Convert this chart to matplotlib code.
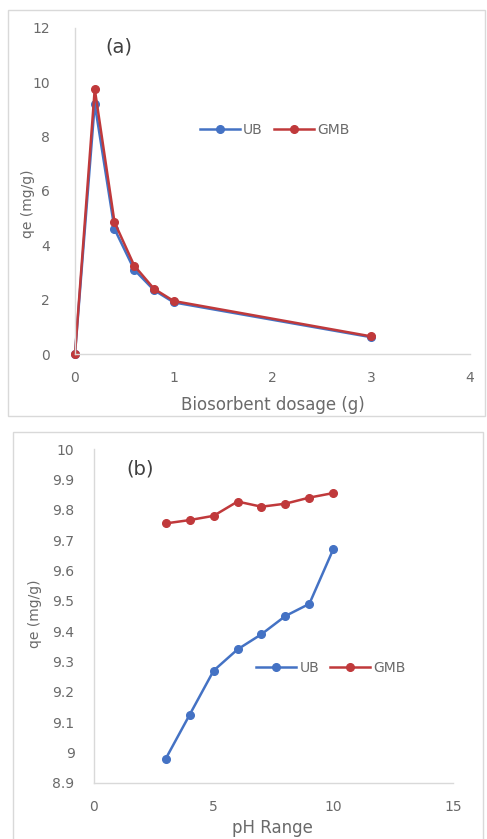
import matplotlib.pyplot as plt
import matplotlib.patches as patches

# (a) dosage data
dose = [0, 0.2, 0.4, 0.6, 0.8, 1.0, 3.0]
ub_dose = [0, 9.2, 4.6, 3.1, 2.35, 1.9, 0.62]
gmb_dose = [0, 9.75, 4.85, 3.25, 2.4, 1.95, 0.65]

# (b) pH data
ph = [3, 4, 5, 6, 7, 8, 9, 10]
ub_ph = [8.98, 9.125, 9.27, 9.34, 9.39, 9.45, 9.49, 9.67]
gmb_ph = [9.755, 9.766, 9.78, 9.827, 9.81, 9.82, 9.84, 9.855]

blue = '#4472C4'
red = '#C0393B'
grey = '#6a6a6a'
fs = 10
plt.rcParams['font.family'] = ['DejaVu Sans']

fig = plt.figure(figsize=(4.87, 8.39), dpi=100)

# chart area frames
for (x0, y0, w, h) in [(0.0164, 0.504, 0.979, 0.484), (0.027, -0.02, 0.965, 0.505)]:
    fig.patches.append(patches.Rectangle((x0, y0), w, h, transform=fig.transFigure,
                                         facecolor='none', edgecolor='#D9D9D9', linewidth=1))

def style(ax, ypad, xpad):
    for s in ['top', 'right']:
        ax.spines[s].set_visible(False)
    for s in ['left', 'bottom']:
        ax.spines[s].set_color('#D9D9D9')
        ax.spines[s].set_linewidth(1)
    ax.tick_params(length=0, colors=grey, labelsize=fs)
    ax.tick_params(axis='y', pad=ypad)
    ax.tick_params(axis='x', pad=xpad)
    ax.set_facecolor('none')

leg_kw = dict(loc='center', ncol=2, frameon=False, fontsize=fs, labelcolor=grey,
              handlelength=2.9, columnspacing=0.8, handletextpad=0.2)

ax1 = fig.add_axes([0.154, 0.578, 0.811, 0.389])
ax1.plot(dose, ub_dose, '-o', color=blue, lw=1.8, ms=5.5, label='UB')
ax1.plot(dose, gmb_dose, '-o', color=red, lw=1.8, ms=5.5, label='GMB')
ax1.set_xlim(0, 4)
ax1.set_ylim(0, 12)
ax1.set_xticks([0, 1, 2, 3, 4])
ax1.set_yticks([0, 2, 4, 6, 8, 10, 12])
ax1.set_xlabel('Biosorbent dosage (g)', color=grey, fontsize=12, va='center')
ax1.xaxis.set_label_coords(0.5, -0.156)
ax1.set_ylabel('qe (mg/g)', color=grey, fontsize=fs, va='center')
ax1.yaxis.set_label_coords(-0.118, 0.46)
ax1.text(0.076, 0.94, '(a)', transform=ax1.transAxes, fontsize=14, color='#404040', va='center')
ax1.legend(bbox_to_anchor=(0.506, 0.687), **leg_kw)
style(ax1, 18, 12)
for l in ax1.lines:
    l.set_clip_on(False)

ax2 = fig.add_axes([0.193, 0.0668, 0.737, 0.398])
ax2.plot(ph, ub_ph, '-o', color=blue, lw=1.8, ms=5.5, label='UB')
ax2.plot(ph, gmb_ph, '-o', color=red, lw=1.8, ms=5.5, label='GMB')
ax2.set_xlim(0, 15)
ax2.set_ylim(8.9, 10)
ax2.set_xticks([0, 5, 10, 15])
ax2.set_yticks([8.9, 9, 9.1, 9.2, 9.3, 9.4, 9.5, 9.6, 9.7, 9.8, 9.9, 10])
ax2.set_yticklabels(['8.9', '9', '9.1', '9.2', '9.3', '9.4', '9.5', '9.6', '9.7', '9.8', '9.9', '10'])
ax2.set_xlabel('pH Range', color=grey, fontsize=12, va='center')
ax2.xaxis.set_label_coords(0.496, -0.136)
ax2.set_ylabel('qe (mg/g)', color=grey, fontsize=fs, va='center')
ax2.yaxis.set_label_coords(-0.164, 0.506)
ax2.text(0.09, 0.94, '(b)', transform=ax2.transAxes, fontsize=14, color='#404040', va='center')
ax2.legend(bbox_to_anchor=(0.66, 0.344), **leg_kw)
style(ax2, 14, 12)

fig.savefig('out.png', dpi=100)
